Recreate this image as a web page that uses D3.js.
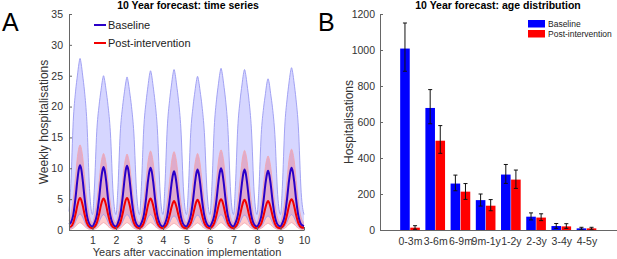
<!DOCTYPE html>
<html>
<head>
<meta charset="utf-8">
<script src="https://cdn.jsdelivr.net/npm/d3@7"></script>
<style>
  body { margin: 0; background: #fff; }
  svg { font-family: "Liberation Sans", Arial, sans-serif; display: block; }
  .tick text { fill: #333; font-size: 10.5px; }
  .axis path, .axis line { stroke: #666; }
</style>
</head>
<body>
<svg id="chart" width="617" height="259"></svg>
<script>
// ---- panel A: weekly hospitalisations, sampled within each year ----
var phaseOffsets = [0.0, 0.08, 0.18, 0.28, 0.36, 0.42, 0.47, 0.52, 0.58, 0.66, 0.76, 0.88];

var baselineMid = [
  0.9, 1.2, 2.4, 5.3, 8.2, 9.9, 10.5, 9.9, 8.2, 5.3, 2.4, 0.9,
  0.55, 1.1, 2.3, 5.1, 8.0, 9.6, 10.2, 9.6, 8.0, 5.1, 2.3, 0.9,
  0.55, 1.1, 2.4, 5.2, 8.1, 9.8, 10.4, 9.8, 8.1, 5.2, 2.4, 0.9,
  0.55, 1.1, 2.3, 5.1, 7.9, 9.5, 10.1, 9.5, 7.9, 5.1, 2.3, 0.9,
  0.55, 1.0, 2.2, 4.8, 7.4, 8.9, 9.5, 8.9, 7.4, 4.8, 2.2, 0.85,
  0.55, 1.1, 2.3, 4.9, 7.6, 9.2, 9.8, 9.2, 7.6, 4.9, 2.3, 0.9,
  0.55, 1.1, 2.3, 5.0, 7.8, 9.4, 10.0, 9.4, 7.8, 5.0, 2.3, 0.9,
  0.55, 1.1, 2.3, 4.9, 7.6, 9.2, 9.8, 9.2, 7.6, 4.9, 2.3, 0.9,
  0.55, 1.0, 2.2, 4.8, 7.5, 9.0, 9.6, 9.0, 7.5, 4.8, 2.2, 0.85,
  0.55, 1.1, 2.3, 5.1, 7.9, 9.5, 10.1, 9.5, 7.9, 5.1, 2.3, 0.9,
  0.6
];
var baselineHi = [
  3.0, 7.5, 17.6, 22.5, 25.1, 26.9, 27.8, 26.9, 25.1, 22.5, 17.6, 6.2,
  2.5, 6.8, 15.9, 20.2, 22.6, 24.2, 25.0, 24.2, 22.6, 20.2, 15.9, 5.8,
  2.5, 6.7, 15.7, 20.0, 22.4, 24.0, 24.8, 24.0, 22.4, 20.0, 15.7, 5.8,
  2.5, 7.0, 16.4, 20.8, 23.3, 25.0, 25.8, 25.0, 23.3, 20.8, 16.4, 6.0,
  2.5, 7.0, 16.5, 21.0, 23.5, 25.2, 26.0, 25.2, 23.5, 21.0, 16.5, 6.0,
  2.5, 6.7, 15.8, 20.1, 22.5, 24.1, 24.9, 24.1, 22.5, 20.1, 15.8, 5.8,
  2.5, 7.0, 16.6, 21.2, 23.7, 25.4, 26.2, 25.4, 23.7, 21.2, 16.6, 6.0,
  2.5, 7.0, 16.5, 21.0, 23.5, 25.2, 26.0, 25.2, 23.5, 21.0, 16.5, 6.0,
  2.5, 6.6, 15.5, 19.8, 22.1, 23.8, 24.5, 23.8, 22.1, 19.8, 15.5, 5.7,
  2.5, 7.1, 16.7, 21.2, 23.8, 25.5, 26.3, 25.5, 23.8, 21.2, 16.7, 6.1,
  2.5
];
var baselineLo = [
  0.2, 0.3, 0.6, 1.35, 2.1, 2.45, 2.6, 2.45, 2.1, 1.35, 0.6, 0.25,
  0.15, 0.3, 0.6, 1.3, 2.0, 2.35, 2.5, 2.35, 2.0, 1.3, 0.6, 0.25,
  0.15, 0.3, 0.6, 1.3, 2.0, 2.35, 2.5, 2.35, 2.0, 1.3, 0.6, 0.25,
  0.15, 0.3, 0.6, 1.3, 2.0, 2.35, 2.5, 2.35, 2.0, 1.3, 0.6, 0.25,
  0.15, 0.3, 0.55, 1.2, 1.85, 2.15, 2.3, 2.15, 1.85, 1.2, 0.55, 0.25,
  0.15, 0.3, 0.6, 1.25, 1.95, 2.3, 2.4, 2.3, 1.95, 1.25, 0.6, 0.25,
  0.15, 0.3, 0.6, 1.3, 2.0, 2.35, 2.5, 2.35, 2.0, 1.3, 0.6, 0.25,
  0.15, 0.3, 0.6, 1.25, 1.95, 2.3, 2.4, 2.3, 1.95, 1.25, 0.6, 0.25,
  0.15, 0.3, 0.55, 1.2, 1.85, 2.15, 2.3, 2.15, 1.85, 1.2, 0.55, 0.25,
  0.15, 0.3, 0.6, 1.3, 2.0, 2.35, 2.5, 2.35, 2.0, 1.3, 0.6, 0.25,
  0.15
];
var postMid = [
  0.5, 0.55, 1.15, 2.6, 4.05, 4.9, 5.2, 4.9, 4.05, 2.6, 1.15, 0.45,
  0.3, 0.5, 1.1, 2.55, 4.0, 4.8, 5.1, 4.8, 4.0, 2.55, 1.1, 0.45,
  0.3, 0.55, 1.15, 2.6, 4.05, 4.9, 5.2, 4.9, 4.05, 2.6, 1.15, 0.45,
  0.3, 0.5, 1.1, 2.55, 4.0, 4.8, 5.1, 4.8, 4.0, 2.55, 1.1, 0.45,
  0.3, 0.5, 1.05, 2.35, 3.65, 4.4, 4.7, 4.4, 3.65, 2.35, 1.05, 0.4,
  0.3, 0.5, 1.1, 2.45, 3.8, 4.6, 4.9, 4.6, 3.8, 2.45, 1.1, 0.45,
  0.3, 0.5, 1.1, 2.5, 3.9, 4.7, 5.0, 4.7, 3.9, 2.5, 1.1, 0.45,
  0.3, 0.5, 1.1, 2.45, 3.8, 4.6, 4.9, 4.6, 3.8, 2.45, 1.1, 0.45,
  0.3, 0.5, 1.05, 2.35, 3.65, 4.4, 4.7, 4.4, 3.65, 2.35, 1.05, 0.4,
  0.3, 0.5, 1.1, 2.5, 3.9, 4.7, 5.0, 4.7, 3.9, 2.5, 1.1, 0.45,
  0.35
];
var postHi = [
  1.5, 2.5, 4.9, 8.6, 11.9, 13.3, 13.8, 13.3, 11.9, 8.6, 4.9, 2.1,
  1.2, 2.2, 4.4, 7.8, 10.7, 11.9, 12.4, 11.9, 10.7, 7.8, 4.4, 1.9,
  1.2, 2.2, 4.3, 7.7, 10.6, 11.8, 12.3, 11.8, 10.6, 7.7, 4.3, 1.9,
  1.2, 2.3, 4.5, 8.0, 11.0, 12.3, 12.8, 12.3, 11.0, 8.0, 4.5, 2.0,
  1.2, 2.3, 4.5, 7.9, 10.9, 12.2, 12.7, 12.2, 10.9, 7.9, 4.5, 2.0,
  1.2, 2.2, 4.4, 7.8, 10.7, 11.9, 12.4, 11.9, 10.7, 7.8, 4.4, 1.9,
  1.2, 2.3, 4.6, 8.1, 11.2, 12.5, 13.0, 12.5, 11.2, 8.1, 4.6, 2.0,
  1.2, 2.3, 4.5, 8.1, 11.1, 12.4, 12.9, 12.4, 11.1, 8.1, 4.5, 2.0,
  1.2, 2.2, 4.2, 7.5, 10.3, 11.5, 12.0, 11.5, 10.3, 7.5, 4.2, 1.9,
  1.2, 2.4, 4.6, 8.2, 11.3, 12.6, 13.1, 12.6, 11.3, 8.2, 4.6, 2.0,
  1.2
];
var postLo = [
  0.05, 0.12, 0.3, 0.6, 0.95, 1.1, 1.2, 1.1, 0.95, 0.6, 0.3, 0.1,
  0.05, 0.12, 0.3, 0.6, 0.95, 1.1, 1.2, 1.1, 0.95, 0.6, 0.3, 0.1,
  0.05, 0.12, 0.3, 0.6, 0.95, 1.1, 1.2, 1.1, 0.95, 0.6, 0.3, 0.1,
  0.05, 0.12, 0.3, 0.6, 0.95, 1.1, 1.2, 1.1, 0.95, 0.6, 0.3, 0.1,
  0.05, 0.1, 0.28, 0.55, 0.85, 1.0, 1.1, 1.0, 0.85, 0.55, 0.28, 0.1,
  0.05, 0.12, 0.3, 0.58, 0.9, 1.05, 1.15, 1.05, 0.9, 0.58, 0.3, 0.1,
  0.05, 0.12, 0.3, 0.6, 0.95, 1.1, 1.2, 1.1, 0.95, 0.6, 0.3, 0.1,
  0.05, 0.12, 0.3, 0.58, 0.9, 1.05, 1.15, 1.05, 0.9, 0.58, 0.3, 0.1,
  0.05, 0.1, 0.28, 0.55, 0.85, 1.0, 1.1, 1.0, 0.85, 0.55, 0.28, 0.1,
  0.05, 0.12, 0.3, 0.6, 0.95, 1.1, 1.2, 1.1, 0.95, 0.6, 0.3, 0.1,
  0.05
];
var yearTicks = [1, 2, 3, 4, 5, 6, 7, 8, 9, 10];
var weeklyTicks = [0, 5, 10, 15, 20, 25, 30, 35];

// ---- panel B: total hospitalisations by age ----
var ageGroups = ["0-3m", "3-6m", "6-9m", "9m-1y", "1-2y", "2-3y", "3-4y", "4-5y"];
var baseTotal = [1008, 678, 258, 166, 308, 74, 22, 9];
var baseLow   = [882, 590, 218, 133, 259, 56, 9, 4];
var baseHigh  = [1150, 780, 305, 200, 364, 95, 36, 15];
var postTotal = [13, 496, 213, 135, 280, 69, 20, 9];
var postLow   = [4, 426, 170, 107, 231, 52, 9, 4];
var postHigh  = [24, 580, 258, 169, 333, 90, 35, 15];
var ageTicks = [0, 200, 400, 600, 800, 1000, 1200];

var svg = d3.select("#chart");

// times built from year + phase
var times = [];
for (var yr = 0; yr < 10; yr++) {
  phaseOffsets.forEach(function (p) { times.push(yr + p); });
}
times.push(10);

var tsData = times.map(function (t, i) {
  return { t: t, bm: baselineMid[i], bh: baselineHi[i], bl: baselineLo[i],
           pm: postMid[i], ph: postHi[i], pl: postLo[i] };
});

var A = { left: 69, right: 304, top: 14, bottom: 230 };
var xA = d3.scaleLinear().domain([0, 10]).range([A.left, A.right]);
var yA = d3.scaleLinear().domain([0, 35]).range([A.bottom, A.top]);
var curve = d3.curveMonotoneX;

var gA = svg.append("g");

gA.append("path").datum(tsData)
  .attr("fill", "#0000ff").attr("fill-opacity", 0.16)
  .attr("d", d3.area().curve(curve).x(function (d) { return xA(d.t); })
    .y0(function (d) { return yA(d.bl); }).y1(function (d) { return yA(d.bh); }));
gA.append("path").datum(tsData)
  .attr("fill", "#ff0000").attr("fill-opacity", 0.2)
  .attr("d", d3.area().curve(curve).x(function (d) { return xA(d.t); })
    .y0(function (d) { return yA(d.pl); }).y1(function (d) { return yA(d.ph); }));

function lineOf(key) {
  return d3.line().curve(curve).x(function (d) { return xA(d.t); }).y(function (d) { return yA(d[key]); });
}
[["bh", "#9a9af2", 0.9], ["bl", "#9a9af2", 0.9], ["ph", "#f2a6b0", 0.9], ["pl", "#f2a6b0", 0.9],
 ["bm", "#2a00c8", 2], ["pm", "#f20000", 2]].forEach(function (s) {
  gA.append("path").datum(tsData)
    .attr("fill", "none").attr("stroke", s[1]).attr("stroke-width", s[2])
    .attr("d", lineOf(s[0]));
});

gA.append("g").attr("class", "axis")
  .attr("transform", "translate(0," + A.bottom + ")")
  .call(d3.axisBottom(xA).tickValues(yearTicks).tickSizeInner(-3).tickSizeOuter(0).tickPadding(7));
gA.append("g").attr("class", "axis")
  .attr("transform", "translate(" + A.left + ",0)")
  .call(d3.axisLeft(yA).tickValues(weeklyTicks).tickSizeInner(-3).tickSizeOuter(0).tickPadding(6));

gA.append("text").attr("x", 188).attr("y", 9).attr("text-anchor", "middle")
  .attr("font-weight", "bold").attr("font-size", 10.5).text("10 Year forecast: time series");
gA.append("text").attr("x", 187).attr("y", 256).attr("text-anchor", "middle")
  .attr("font-size", 11).attr("fill", "#333").text("Years after vaccination implementation");
gA.append("text").attr("transform", "translate(48,122) rotate(-90)").attr("text-anchor", "middle")
  .attr("font-size", 12).attr("fill", "#333").text("Weekly hospitalisations");
gA.append("text").attr("x", 2).attr("y", 31).attr("font-size", 25).text("A");

// legend A
[["Baseline", "#2a00c8", 25], ["Post-intervention", "#f20000", 43]].forEach(function (l) {
  gA.append("line").attr("x1", 94).attr("x2", 106).attr("y1", l[2]).attr("y2", l[2])
    .attr("stroke", l[1]).attr("stroke-width", 2);
  gA.append("text").attr("x", 108).attr("y", l[2] + 4).attr("font-size", 11).attr("fill", "#222").text(l[0]);
});

// ---- panel B ----
var B = { left: 380, right: 617, top: 14, bottom: 230 };
var xB = d3.scaleLinear().domain([-0.19, 9.21]).range([B.left, B.right]);
var yB = d3.scaleLinear().domain([0, 1200]).range([B.bottom, B.top]);
var gB = svg.append("g");
var barW = 0.38, off = 0.2;

var series = [
  { vals: baseTotal, lo: baseLow, hi: baseHigh, color: "#0000ff", dx: -off },
  { vals: postTotal, lo: postLow, hi: postHigh, color: "#ff0000", dx: off }
];
series.forEach(function (s) {
  var g = gB.append("g");
  g.selectAll("rect").data(s.vals).enter().append("rect")
    .attr("x", function (d, i) { return xB(i + 1 + s.dx - barW / 2); })
    .attr("width", xB(barW) - xB(0))
    .attr("y", function (d) { return yB(d); })
    .attr("height", function (d) { return B.bottom - yB(d); })
    .attr("fill", s.color);
  var eg = g.selectAll("g.err").data(s.vals).enter().append("g").attr("class", "err")
    .attr("stroke", "#111").attr("stroke-width", 1);
  eg.append("line")
    .attr("x1", function (d, i) { return xB(i + 1 + s.dx); })
    .attr("x2", function (d, i) { return xB(i + 1 + s.dx); })
    .attr("y1", function (d, i) { return yB(s.lo[i]); })
    .attr("y2", function (d, i) { return yB(s.hi[i]); });
  [s.lo, s.hi].forEach(function (arr) {
    eg.append("line")
      .attr("x1", function (d, i) { return xB(i + 1 + s.dx - 0.08); })
      .attr("x2", function (d, i) { return xB(i + 1 + s.dx + 0.08); })
      .attr("y1", function (d, i) { return yB(arr[i]); })
      .attr("y2", function (d, i) { return yB(arr[i]); });
  });
});

gB.append("g").attr("class", "axis")
  .attr("transform", "translate(0," + B.bottom + ")")
  .call(d3.axisBottom(xB).tickValues(d3.range(1, ageGroups.length + 1))
    .tickFormat(function (d) { return ageGroups[d - 1]; })
    .tickSizeInner(0).tickSizeOuter(0).tickPadding(8));
gB.append("g").attr("class", "axis")
  .attr("transform", "translate(" + B.left + ",0)")
  .call(d3.axisLeft(yB).tickValues(ageTicks).tickFormat(d3.format("d"))
    .tickSizeInner(-3).tickSizeOuter(0).tickPadding(5));

gB.append("text").attr("x", 498).attr("y", 9).attr("text-anchor", "middle")
  .attr("font-weight", "bold").attr("font-size", 10.5).text("10 Year forecast: age distribution");
gB.append("text").attr("transform", "translate(353,122) rotate(-90)").attr("text-anchor", "middle")
  .attr("font-size", 12).attr("fill", "#333").text("Hospitalisations");
gB.append("text").attr("x", 318).attr("y", 31).attr("font-size", 25).text("B");

// legend B
[["Baseline", "#0000ff", 20], ["Post-intervention", "#ff0000", 30]].forEach(function (l) {
  gB.append("rect").attr("x", 528).attr("y", l[2]).attr("width", 17).attr("height", 7.5).attr("fill", l[1]);
  gB.append("text").attr("x", 548).attr("y", l[2] + 7).attr("font-size", 8.5).attr("fill", "#222").text(l[0]);
});
</script>
</body>
</html>
